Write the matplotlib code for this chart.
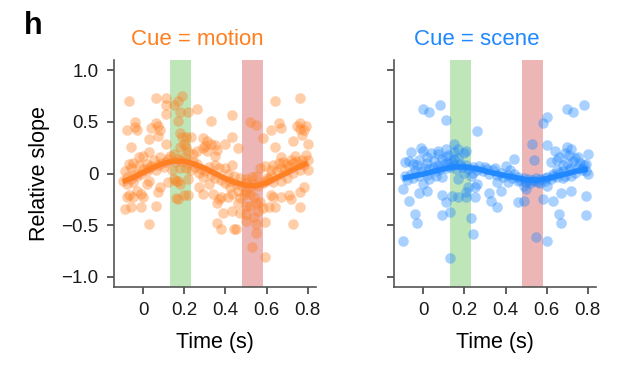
import matplotlib
matplotlib.use("Agg")
import matplotlib.pyplot as plt
import numpy as np

plt.rcParams['font.family'] = ['Liberation Sans', 'DejaVu Sans']

# --- data ---
# scatter points, (time s, relative slope)
motion_pts = np.array([
    (-0.07, 0.70), (0.06, 0.73), (0.11, 0.73), (0.19, 0.75), (0.17, 0.70), (0.15, 0.66),
    (0.11, 0.66), (0.18, 0.60), (0.11, 0.58), (0.22, 0.60), (0.26, 0.63), (0.64, 0.70),
    (0.76, 0.73), (0.43, 0.57), (0.33, 0.51), (0.17, 0.51), (-0.04, 0.50), (-0.08, 0.42),
    (-0.04, 0.45), (-0.03, 0.42), (0.04, 0.44), (0.06, 0.49), (0.07, 0.46), (0.08, 0.42),
    (0.07, 0.36), (0.03, 0.33), (-0.06, 0.26), (0.52, 0.50), (0.55, 0.47), (0.58, 0.34),
    (0.62, 0.42), (0.66, 0.49), (0.67, 0.44), (0.73, 0.32), (0.75, 0.46), (0.76, 0.49),
    (0.76, 0.43), (0.78, 0.42), (0.79, 0.46), (0.77, 0.37), (0.80, 0.29), (0.64, 0.26),
    (0.18, 0.39), (0.19, 0.35), (0.21, 0.35), (0.23, 0.35), (0.20, 0.29), (0.18, 0.26),
    (0.21, 0.26), (0.11, 0.29), (0.29, 0.34), (0.31, 0.32), (0.30, 0.27), (0.29, 0.25),
    (0.33, 0.29), (0.35, 0.28), (0.40, 0.29), (0.43, 0.35), (0.46, 0.25), (0.36, 0.23),
    (0.35, 0.17), (0.31, 0.22), (0.26, 0.22), (0.24, 0.19), (0.22, 0.21), (0.03, 0.21),
    (0.00, 0.17), (-0.02, 0.16), (-0.05, 0.10), (-0.07, 0.09),
    (-0.09, 0.02), (-0.10, -0.07), (-0.08, -0.10), (-0.06, -0.05), (-0.02, 0.08), (0.02, 0.09),
    (0.05, 0.13), (0.08, 0.16), (0.13, 0.17), (0.15, 0.19), (0.20, 0.16), (0.16, 0.11),
    (0.11, 0.11), (0.07, 0.08), (0.03, 0.05), (-0.01, 0.00), (-0.04, 0.00), (-0.06, 0.05),
    (0.14, 0.03), (0.18, 0.05), (0.21, 0.05), (0.15, -0.05), (0.16, -0.07), (0.18, -0.10),
    (0.22, -0.05), (0.23, 0.03), (0.26, 0.09), (0.27, 0.01), (0.29, -0.03), (0.32, 0.06),
    (0.35, 0.08), (0.37, 0.05), (0.40, 0.05), (0.43, 0.08), (0.41, 0.00), (0.44, -0.02),
    (0.47, -0.04), (0.50, -0.05), (0.53, -0.03), (0.55, -0.02), (0.57, 0.05), (0.59, 0.07),
    (0.62, 0.03), (0.63, 0.08), (0.67, 0.16), (0.68, 0.11), (0.70, 0.09), (0.72, 0.13),
    (0.74, 0.17), (0.76, 0.09), (0.77, 0.13), (0.80, 0.13), (0.80, 0.03), (0.76, 0.03),
    (0.73, 0.01), (0.70, -0.04), (0.67, -0.07), (0.63, -0.08), (0.61, -0.05), (0.59, -0.07),
    (0.78, -0.13), (0.76, -0.18), (0.63, -0.23), (0.62, -0.21), (0.67, -0.23), (0.71, -0.21),
    (0.72, -0.25), (0.76, -0.32), (0.73, -0.49), (0.64, -0.32), (0.61, -0.32), (0.57, -0.28),
    (0.58, -0.33), (0.55, -0.29), (0.54, -0.23), (0.52, -0.20), (0.50, -0.17), (0.49, -0.21),
    (0.47, -0.24), (0.46, -0.17), (0.43, -0.20), (0.42, -0.13), (0.41, -0.23), (0.38, -0.23),
    (0.37, -0.25), (0.36, -0.29), (0.34, -0.20), (0.32, -0.10), (0.29, -0.20), (0.27, -0.13),
    (0.22, -0.21), (0.20, -0.21), (0.17, -0.25), (0.16, -0.24), (0.17, -0.07), (0.12, -0.08),
    (0.08, -0.13), (0.07, -0.18), (0.06, -0.31), (0.03, -0.49), (0.00, -0.23), (-0.01, -0.20),
    (-0.05, -0.23), (-0.07, -0.21), (-0.08, -0.23), (-0.06, -0.32), (-0.09, -0.34), (-0.03, -0.17),
    (0.02, -0.10), (0.03, -0.07), (0.36, -0.48), (0.38, -0.54), (0.44, -0.54), (0.45, -0.54),
    (0.39, -0.38), (0.43, -0.36), (0.47, -0.38), (0.50, -0.46), (0.50, -0.39), (0.54, -0.42),
    (0.55, -0.49), (0.55, -0.58), (0.53, -0.71), (0.59, -0.81), (0.59, -0.47), (0.56, -0.36),
    (0.52, -0.31), (0.50, -0.31), (0.46, -0.29), (-0.01, -0.32),
    (-0.08, -0.03), (-0.05, -0.08), (-0.03, -0.02), (0.00, 0.04), (0.02, 0.02), (0.04, 0.07),
    (0.06, 0.03), (0.09, 0.10), (0.10, 0.06), (0.12, 0.14), (0.17, 0.14), (0.19, 0.12),
    (0.22, 0.10), (0.24, 0.12), (0.25, 0.06), (0.28, 0.04), (0.30, 0.02), (0.33, -0.01),
    (0.35, -0.04), (0.38, -0.06), (0.40, -0.09), (0.42, -0.07), (0.45, -0.10), (0.48, -0.12),
    (0.50, -0.09), (0.52, -0.13), (0.54, -0.10), (0.56, -0.12), (0.58, -0.09), (0.60, -0.04),
    (0.62, -0.01), (0.65, 0.02), (0.67, 0.05), (0.69, 0.03), (0.71, 0.07), (0.73, 0.10),
    (0.75, 0.12), (0.78, 0.08), (0.79, 0.18), (0.66, 0.10),
])

scene_pts = np.array([
    (0.00, 0.63), (0.03, 0.60), (0.08, 0.66), (0.11, 0.52), (0.26, 0.41), (0.70, 0.63),
    (0.73, 0.60), (0.78, 0.66), (0.58, 0.49), (0.60, 0.55), (0.53, 0.29), (0.60, 0.28),
    (0.54, 0.13), (0.44, 0.14), (0.64, 0.22), (0.70, 0.26), (0.72, 0.24), (-0.06, 0.21),
    (-0.01, 0.25), (0.00, 0.22), (-0.09, 0.11), (-0.07, 0.12), (0.15, 0.29), (0.17, 0.24),
    (0.20, 0.20), (0.21, 0.22), (0.11, 0.24), (0.07, 0.19), (0.02, 0.16), (-0.02, 0.13),
    (-0.05, 0.09), (0.11, 0.16), (0.15, 0.14), (0.17, -0.05), (0.26, -0.10), (0.25, -0.13),
    (0.22, -0.13), (0.21, -0.18), (0.25, -0.23), (0.21, -0.23), (0.17, -0.23), (0.14, -0.22),
    (0.09, -0.21), (0.11, -0.28), (0.13, -0.37), (0.09, -0.40), (0.23, -0.43), (0.24, -0.59),
    (0.13, -0.82), (-0.10, -0.65), (-0.04, -0.39), (-0.03, -0.48), (-0.07, -0.27), (-0.10, -0.15),
    (-0.02, -0.19), (0.02, -0.17), (0.00, -0.10), (0.32, -0.19), (0.33, -0.27), (0.36, -0.32),
    (0.38, -0.17), (0.36, -0.08), (0.46, -0.28), (0.49, -0.27), (0.55, -0.62), (0.60, -0.65),
    (0.58, -0.25), (0.63, -0.27), (0.66, -0.39), (0.67, -0.48), (0.67, -0.19), (0.72, -0.17),
    (0.79, -0.22), (0.79, -0.40), (0.80, 0.00), (0.79, 0.09), (0.80, 0.19), (0.75, 0.16),
    (0.65, 0.13), (0.62, 0.11), (0.03, -0.05), (0.06, -0.02), (0.09, -0.03), (0.20, 0.01),
    (0.23, -0.02), (0.24, 0.01), (0.30, 0.06), (0.35, 0.05), (0.40, 0.07), (0.42, 0.03),
    (0.41, -0.08), (0.46, -0.07), (0.49, -0.12), (0.50, -0.15), (0.60, -0.12), (0.59, -0.04),
    (0.54, -0.07), (0.57, -0.09), (0.68, -0.04), (0.72, -0.02), (0.77, 0.03), (0.65, 0.03),
    (0.63, -0.02),
    (-0.09, -0.02), (-0.08, -0.06), (-0.06, 0.00), (-0.05, -0.04), (-0.04, 0.03), (-0.02, -0.02),
    (-0.01, 0.02), (0.01, 0.05), (0.02, -0.01), (0.03, 0.04), (0.05, 0.06), (0.06, 0.02),
    (0.07, 0.08), (0.08, 0.04), (0.10, 0.09), (0.11, 0.05), (0.12, 0.10), (0.13, 0.06),
    (0.14, 0.11), (0.15, 0.08), (0.16, 0.04), (0.18, 0.09), (0.19, 0.06), (0.21, 0.08),
    (0.22, 0.04), (0.24, 0.06), (0.26, 0.03), (0.27, 0.07), (0.29, 0.02), (0.31, 0.04),
    (0.32, 0.00), (0.34, 0.03), (0.36, -0.01), (0.38, 0.01), (0.39, -0.03), (0.41, -0.01),
    (0.43, -0.04), (0.44, 0.00), (0.46, -0.03), (0.47, -0.06), (0.49, -0.04), (0.50, -0.08),
    (0.51, -0.05), (0.52, -0.09), (0.53, -0.06), (0.55, -0.04), (0.56, -0.08), (0.57, -0.05),
    (0.59, -0.07), (0.60, -0.03), (0.62, -0.05), (0.63, 0.00), (0.65, -0.03), (0.66, 0.01),
    (0.68, 0.02), (0.69, -0.02), (0.71, 0.03), (0.72, 0.05), (0.74, 0.01), (0.75, 0.06),
    (0.77, 0.05), (0.78, 0.08), (0.79, 0.02), (0.70, 0.10), (0.73, 0.12), (0.76, 0.10),
    (0.68, 0.08), (0.05, 0.12), (0.02, 0.10), (-0.03, 0.08), (0.09, 0.14), (0.17, 0.15),
    (0.12, 0.18), (0.15, 0.21), (0.07, 0.22), (0.04, 0.20), (0.69, 0.20), (0.71, 0.18),
    (0.74, 0.15), (0.66, 0.16),
])

# fitted trend
trend_t = [-0.10, -0.05, 0.00, 0.05, 0.10, 0.15, 0.20, 0.25, 0.30, 0.35,
           0.40, 0.45, 0.50, 0.55, 0.60, 0.65, 0.70, 0.75, 0.80]
motion_trend = [-0.08, -0.04, 0.01, 0.06, 0.10, 0.12, 0.12, 0.09, 0.05, 0.00,
                -0.05, -0.09, -0.115, -0.12, -0.09, -0.04, 0.01, 0.06, 0.10]
scene_trend = [-0.045, -0.025, -0.005, 0.02, 0.045, 0.065, 0.065, 0.05, 0.025, 0.0,
               -0.02, -0.04, -0.06, -0.065, -0.05, -0.025, 0.0, 0.025, 0.045]

green_win = (0.13, 0.23)
red_win = (0.48, 0.58)

xticks = [0, 0.2, 0.4, 0.6, 0.8]
xticklabels = ['0', '0.2', '0.4', '0.6', '0.8']
yticks = [-1.0, -0.5, 0, 0.5, 1.0]
yticklabels = ['\u22121.0', '\u22120.5', '0', '0.5', '1.0']

panels = [
    ('Cue = motion', motion_pts, motion_trend, '#ff7f1e'),
    ('Cue = scene', scene_pts, scene_trend, '#1f87ff'),
]

fig = plt.figure(figsize=(6.38, 3.72), dpi=100)
lefts = [0.1787, 0.6176]

for i, (title, pts, trend, col) in enumerate(panels):
    ax = fig.add_axes([lefts[i], 0.2285, 0.3166, 0.610])
    ax.axvspan(*green_win, color='#bfe6b9', lw=0, zorder=0)
    ax.axvspan(*red_win, color='#edb6b6', lw=0, zorder=0)
    ax.scatter(pts[:, 0], pts[:, 1], s=58, color=col, alpha=0.38, lw=0, zorder=2)
    tr = np.array(trend)
    if i == 0:
        ax.fill_between(trend_t, tr - 0.035, tr + 0.035, color='#f29a9a', alpha=0.45, lw=0, zorder=3)
    ax.plot(trend_t, tr, color=col, lw=4.0, alpha=0.95, solid_capstyle='butt', zorder=4)

    ax.set_xlim(-0.142, 0.84)
    ax.set_ylim(-1.1, 1.1)
    ax.set_xticks(xticks)
    ax.set_xticklabels(xticklabels)
    ax.set_yticks(yticks)
    if i == 0:
        ax.set_yticklabels(yticklabels)
        ax.set_ylabel('Relative slope', fontsize=15.5, labelpad=8)
    else:
        ax.set_yticklabels([])
    ax.set_xlabel('Time (s)', fontsize=15.5, labelpad=9)
    for s in ['top', 'right']:
        ax.spines[s].set_visible(False)
    for s in ['left', 'bottom']:
        ax.spines[s].set_color('#555555')
        ax.spines[s].set_linewidth(1.2)
    ax.tick_params(direction='out', length=5, width=1.1, color='#333333',
                   labelsize=13.5, labelcolor='#1a1a1a', pad=6)
    ax.text(0.41, 1.09, title, transform=ax.transAxes, color=col,
            fontsize=16, ha='center', va='center')

fig.text(0.052, 0.93, 'h', fontsize=22, fontweight='bold', ha='center', va='center')

fig.savefig('out.png', dpi=100)
